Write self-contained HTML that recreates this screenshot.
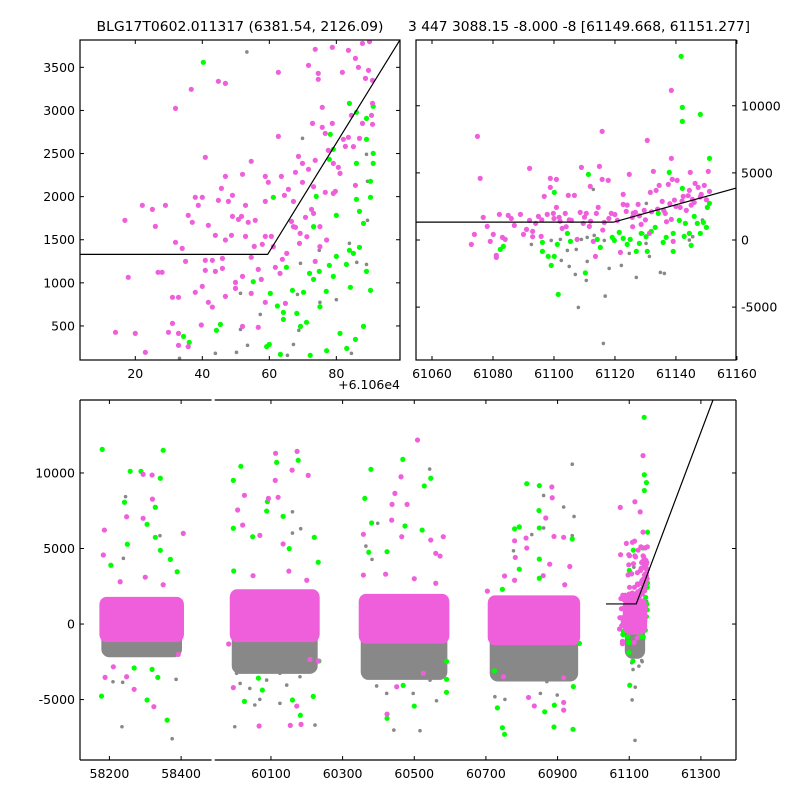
<!DOCTYPE html>
<html><head><meta charset="utf-8">
<style>
html,body{margin:0;padding:0;background:#fff;}
svg{display:block;font-family:"DejaVu Sans","Liberation Sans",sans-serif;}
</style></head>
<body>
<svg id="chart" width="800" height="800" viewBox="0 0 800 800" xmlns="http://www.w3.org/2000/svg">
<defs>
<clipPath id="clipTL"><rect x="80" y="40" width="320" height="320"/></clipPath>
<clipPath id="clipTR"><rect x="416" y="40" width="320" height="320"/></clipPath>
<clipPath id="clipBL"><rect x="80" y="400" width="131.6" height="360"/></clipPath>
<clipPath id="clipBR"><rect x="214.7" y="400" width="521.3" height="360"/></clipPath>
</defs>
<text x="240" y="31" font-size="13" text-anchor="middle" textLength="287" lengthAdjust="spacingAndGlyphs">BLG17T0602.011317 (6381.54, 2126.09)</text>
<text x="579" y="31" font-size="13" text-anchor="middle" textLength="342" lengthAdjust="spacingAndGlyphs">3 447 3088.15 -8.000 -8 [61149.668, 61151.277]</text>
<g id="layer"></g>
</svg>
<script>
// ---- data ----
const tlMagenta=[[14.1,426],[16.9,1725],[17.9,1064],[20,414],[22.1,1899],[23,194],[25.1,1852],[26,1655],[26.8,1122],[28,1122],[29,1899],[29.9,426],[31.1,832],[31.1,530],[32,3024],[32,1470],[32.9,832],[32.9,414],[32.9,275],[34,1400],[35,1249],[35.8,1783],[35.8,260],[36.7,3245],[37,1702],[37.9,1992],[37.9,890],[38.8,1899],[39.7,511],[40,1992],[40,959],[40.9,2456],[40.9,1261],[40.9,1145],[41.8,1667],[41.8,774],[43,1261],[43,719],[43.9,1551],[43.9,1133],[44.8,3338],[44.8,1957],[45.7,2096],[46,1284],[46,1168],[46.9,3314],[46.9,2235],[46.9,1497],[46.9,843],[47.8,1945],[48.7,1551],[49,1771],[49,2015],[49.9,1005],[49.9,936],[50.8,1736],[51.7,1771],[52,2259],[52,1075],[52,495],[52.9,1899],[52.9,1539],[53.7,1702],[54.6,2410],[54.6,1296],[54.6,878],[55.5,1423],[55.8,1725],[56.7,1156],[56.7,484],[57.6,1040],[57.9,1447],[58.8,2235],[58.8,1945],[58.8,1539],[58.8,774],[59.7,2166],[60.6,1539],[61.8,1180],[62.7,3442],[62.7,2699],[63.6,2235],[63.9,1273],[64.5,2015],[64.8,762],[65.7,2085],[66.6,1713],[67.2,1945],[67.8,2282],[67.8,1644],[68.7,2467],[69,1458],[69.9,2166],[69.9,2386],[70.8,1760],[71.7,3523],[71.7,2317],[72.6,1852],[72.9,2850],[73.7,2421],[73.7,3709],[73.7,1249],[74.6,3430],[74.6,3361],[75.8,3036],[75.8,2804],[76.7,2050],[76.7,2734],[77.6,2537],[78.8,3732],[78.8,2850],[79.7,2061],[80.6,2340],[81.8,3442],[82.1,2665],[82.7,2583],[83.6,3697],[84.5,2943],[85.7,3604],[85.7,2131],[86.6,3500],[86.9,2676],[87.8,3778],[87.8,2850],[88.7,3372],[89.6,3465],[89.9,3798],[90.5,2943],[90.8,3082],[90.8,2839],[90.8,3349],[83.6,2688],[79.1,2386],[73.2,1806],[75.1,1420],[71.2,1535],[65.2,1342],[73.2,2115],[79.1,2038],[81.1,2270],[85.1,2580],[67.2,1652],[69.2,1574],[75.1,1652],[77.1,1497],[61.2,1420],[63.2,1110]];
const tlGreen=[[40.3,3558],[61.2,1992],[55.2,1013],[45.4,518],[44.2,449],[34.4,379],[36.1,310],[60,286],[65.1,1180],[60.3,878],[62.4,731],[64.2,657],[64.2,576],[66.9,913],[69.3,495],[70.2,890],[71.1,542],[72,1110],[73.2,1040],[74.9,1133],[77,901],[77.9,1203],[79.1,1075],[80,1307],[83,1214],[84.2,948],[83.9,1377],[85.1,1342],[86.9,1412],[89,1133],[90.2,913],[88.1,495],[85.7,344],[83.1,240],[77.1,213],[72.2,159],[63.3,170],[59.2,260],[74,2003],[80,1783],[86,1969],[86.9,1829],[88.1,1690],[90.2,1992],[90.2,2178],[86,2386],[89,2665],[91,2502],[91,2386],[89,2908],[91,3048],[86,2978],[83.9,3082],[78.2,2723],[79.1,2549],[77.9,2433],[73.2,1652],[68.2,646],[75.1,723],[81.1,414]];
const tlGray=[[53.3,3678],[69.9,2676],[74.9,1377],[83.9,1458],[89,1214],[89.3,1725],[89.3,2178],[89,2491],[69.3,1226],[80,805],[75.1,774],[68.4,866],[57.3,634],[51.4,878],[51.4,460],[53.5,275],[43.9,182],[50.2,194],[33.2,124],[67.2,286],[65.4,159],[84.5,182],[68.8,449],[86.1,1238]];
const trMagenta=[[61074.9,7721],[61075.8,4591],[61076.8,1685],[61073.9,418],[61072.9,-327],[61078.1,1014],[61079.1,-104],[61080.1,418],[61081.1,-1147],[61081.1,-1296],[61082.1,1909],[61083.1,195],[61084,46],[61085,1834],[61087,1089],[61089,1909],[61090,418],[61091,790],[61092,5337],[61092,1462],[61093,642],[61094,1238],[61094.9,1760],[61095.8,269],[61096.8,3250],[61097.8,1909],[61098.8,4591],[61098.8,3920],[61099.8,1983],[61100.8,4517],[61100.8,2430],[61101.7,1685],[61102.7,865],[61103.7,1983],[61104.7,3324],[61105.7,1462],[61106.7,3324],[61107.6,46],[61108.6,2058],[61109,5411],[61109.6,1238],[61110.6,1983],[61111.6,1014],[61111.9,3995],[61112.9,-104],[61113.6,-1221],[61113.9,1983],[61114.5,2430],[61114.9,5486],[61115.8,8094],[61115.8,4517],[61116.5,1312],[61117.8,4442],[61118.8,1983],[61120.8,1462],[61121.8,-923],[61122.7,3399],[61122.7,2654],[61123.7,2132],[61124.7,4889],[61125.7,1685],[61126.7,2058],[61127.6,2654],[61128.6,1163],[61129.6,2207],[61130.6,7423],[61131.6,3548],[61132.6,5113],[61133.5,3697],[61134.5,4070],[61135.5,2877],[61136.5,1983],[61137.5,4144],[61138.5,11149],[61138.5,6082],[61138.8,4517],[61138.5,1536],[61139.5,2977],[61140.4,4442],[61141.4,2430],[61142.4,3250],[61143.4,2207],[61144.4,3697],[61144.7,5039],[61145.4,3026],[61146.3,4219],[61147.3,3920],[61148.3,3399],[61149.3,4070],[61150.6,5113],[61151,3622],[61139.1,-104],[61136.9,1362],[61131.3,493],[61125.8,990],[61116,742],[61104,990],[61093,244],[61120,1900],[61128,1800],[61134,2300],[61140,2500],[61146,2800],[61150,3000],[61110,1700],[61100,1600],[61124,2600],[61144,3300],[61105,1500],[61112,1400],[61118,1600],[61126,2000],[61132,2100],[61138,2700],[61142,2900],[61148,3200],[61086,1600],[61096,1500],[61102,1400],[61130,1500],[61136,2200],[61145,2600]];
const trGreen=[[61141.7,13683],[61142.1,9882],[61142.1,8839],[61148,9361],[61151,6082],[61137.8,5039],[61111.3,4889],[61100.1,3548],[61142.1,3846],[61082.4,-700],[61083.4,-476],[61096.2,-178],[61096.2,-849],[61098.1,-1221],[61100.1,-1221],[61099.1,-1892],[61101.4,-4053],[61101.1,-327],[61104.4,493],[61105.4,-104],[61110.3,-2450],[61114.2,46],[61115.2,-550],[61119.1,195],[61119.8,-29],[61121.4,567],[61122.7,120],[61124,-327],[61125,46],[61127,-849],[61128,-253],[61128.6,493],[61130.6,-849],[61131.9,642],[61133.2,940],[61134.2,1983],[61135.8,-178],[61136.8,195],[61139.1,-849],[61141.1,1462],[61142.7,269],[61143.1,1238],[61145,-402],[61146,1760],[61147,1238],[61148,493],[61149,1312],[61150,940],[61150.3,2430],[61151,2728],[61139.1,493],[61144.4,493],[61130.2,244]];
const trGray=[[61112.9,3771],[61130.3,2728],[61092.6,-327],[61099.1,-29],[61102.1,46],[61104.4,-774],[61107.3,-700],[61109,46],[61110.9,-1594],[61110.9,195],[61102.4,-1519],[61105,-1966],[61107,-2562],[61110.6,-3009],[61108,-5021],[61116.8,-4177],[61116.2,-7704],[61118.1,-2115],[61122.1,-1892],[61127,-2786],[61131.3,-1221],[61134.9,-2413],[61136.2,-2488],[61113.2,344],[61116.5,-29],[61129.1,493],[61130.2,-253],[61124.7,-1000],[61144.4,-4],[61145.5,244],[61148.7,1487]];
const bMagenta=[[58186,6220],[58294,9910],[58319,9860],[58320,8270],[58248,7100],[58294,7000],[58406,6000],[58183,4570],[58188,-3530],[58269,-4320],[58324,-5470],[58392,-2010],[58248,-3490],[58211,-2830],[60113,11300],[60173,11430],[60159,10190],[60204,9840],[60112,9510],[60026,8520],[60007,7550],[60093,8320],[60120,8390],[60021,6550],[60069,5870],[60134,5300],[59995,-4210],[60067,-6750],[60154,-6710],[60184,-6640],[60172,-5430],[59982,-1320],[60232,-2450],[60209,-2340],[60509,12180],[60463,9750],[60446,8650],[60438,7920],[60480,7920],[60437,6880],[60465,5780],[60581,5780],[60546,5560],[60358,5940],[60358,3240],[60560,4680],[60572,4500],[60451,-4150],[60424,-5960],[60525,-3260],[60884,9070],[60885,8360],[60867,7020],[60780,5510],[60812,5690],[60890,5800],[60917,5740],[60814,5030],[60782,4410],[60878,3960],[60934,3810],[60752,3180],[60704,2180],[60835,-5420],[60819,-4860],[60917,-5700],[60917,-5190],[60917,-3550],[60749,-3480],[58230,2800],[58300,3100],[58350,2600],[60050,3200],[60150,3500],[60200,2900],[60420,3300],[60500,3000],[60560,2700],[60780,2900],[60860,3200],[60920,2600]];
const bGreen=[[58180,11560],[58350,11500],[58258,10110],[58288,10110],[58342,9650],[58242,8060],[58328,7730],[58305,6600],[58250,5280],[58328,5740],[58342,4880],[58370,4280],[58204,3890],[58389,3460],[58178,-4770],[58305,-5030],[58361,-6360],[58335,-3530],[58319,-3000],[58269,-2910],[60016,10440],[59995,9510],[60116,10700],[60176,10840],[60090,8100],[60088,7480],[59995,6340],[60049,5780],[60134,7130],[60221,5740],[60151,4990],[60232,4090],[59996,3510],[60218,-4790],[60182,-6040],[60160,-5030],[60076,-4370],[60026,-5120],[60065,-3580],[60234,-2450],[60468,10900],[60379,10240],[60546,9650],[60528,9140],[60362,8320],[60381,6690],[60522,6220],[60474,6490],[60424,4790],[60373,4750],[60500,-5430],[60424,-6240],[60590,-4520],[60590,-3660],[60469,-4060],[60590,-2470],[60814,9290],[60849,9160],[60780,6300],[60793,6430],[60849,6360],[60848,7510],[60941,5630],[60849,4300],[60793,3630],[60849,3030],[60746,2300],[60732,-5550],[60746,-6860],[60752,-7300],[60890,-6810],[60943,-6970],[60864,-5810],[60891,-5370],[60944,-4140],[60724,-3100],[60961,-1280]];
const bGray=[[58245,8430],[58235,-6800],[58375,-7590],[58386,-3660],[58210,-3820],[58237,-3860],[58341,5850],[58239,4350],[60160,7430],[60183,6310],[60160,6020],[59999,-6800],[60223,-6690],[60125,-5250],[60055,-5360],[60069,-4990],[60041,-4260],[60004,-3260],[60088,-3710],[60144,-4040],[60181,-3490],[60014,-3930],[60125,-3260],[60543,10260],[60398,6670],[60365,5160],[60382,4280],[60443,-7020],[60516,-7060],[60562,-5080],[60395,-4100],[60544,-3710],[60460,-3260],[60497,-4590],[60423,-4590],[60385,-3260],[60941,10580],[60861,8510],[60917,7740],[60946,7120],[60828,5920],[60861,6360],[60941,5850],[60777,4850],[60725,-4810],[60753,-4990],[60852,-4590],[60899,-4700],[60946,-3140],[60739,-2930],[60814,-3370],[60870,-3810]];
// dense cluster cores (bottom panel)
const clusterStart=[58172,59985,60345,60705,61082];
const clusterEnd=[58408,60236,60598,60963,61150];
const magentaHigh=[1800,2300,2000,1900,1700];
const magentaLow=[-1200,-1200,-1300,-1400,-700];
const grayLow=[-2200,-3300,-3700,-3800,-2300];
// broken-line model
const modelBase=[1330];
const modelKink=[61119.5];
const modelSlope=[63];
const tlOffset=[61060];
// ticks
const tlXTicks=[20,40,60,80];
const tlYTicks=[500,1000,1500,2000,2500,3000,3500];
const trXTicks=[61060,61080,61100,61120,61140,61160];
const trYTicks=[-5000,0,5000,10000];
const bYTicks=[-5000,0,5000,10000];
const bLeftTicks=[58200,58400];
const bRightTicks=[60100,60300,60500,60700,60900,61100,61300];

// ---- scales ----
const NS="http://www.w3.org/2000/svg";
const layer=document.getElementById('layer');
function lin(d0,d1,r0,r1){return v=>r0+(v-d0)*(r1-r0)/(d1-d0);}
const tlX=lin(3.5,99.0,80,400), tlY=lin(105,3817,360,40);
const trX=lin(61054.75,61159.7,416,736), trY=lin(-8940,14900,360,40);
const bY=lin(-9000,14830,760,400);
const bXL=lin(58118,58485,80,211.6), bXR=lin(59943,61398,214.7,736);
const MAG="#ef5fdc", GRN="#00ff00", GRY="#888888";

function mk(tag,attrs,parent){const e=document.createElementNS(NS,tag);for(const k in attrs)e.setAttribute(k,attrs[k]);(parent||layer).appendChild(e);return e;}
function group(clip){const g=mk('g',{'clip-path':'url(#'+clip+')'});return g;}

function dots(pts,xf,yf,color,r,g,name){
  for(const p of pts){
    const c=mk('circle',{cx:xf(p[0]).toFixed(2),cy:yf(p[1]).toFixed(2),r:r,fill:color},g);
    
    
  }
}
function model(t){return t<modelKink[0]?modelBase[0]:modelBase[0]+(t-modelKink[0])*modelSlope[0];}
function modelLine(t0,t1,xf,yf,off,g,name){
  const ts=[t0,modelKink[0],t1];
  const d=ts.map((t,i)=>(i?'L':'M')+xf(t-off).toFixed(2)+' '+yf(model(t)).toFixed(2)).join(' ');
  const p=mk('path',{d:d,fill:'none',stroke:'#000','stroke-width':1.2},g);
  
  
}
function txt(x,y,s,anchor,name){
  const t=mk('text',{x:x,y:y,'font-size':12.5,'text-anchor':anchor});
  t.textContent=s;
  
  
  return t;
}
function tick(x1,y1,x2,y2,name){
  const l=mk('line',{x1:x1,y1:y1,x2:x2,y2:y2,stroke:'#000','stroke-width':1});
  
  
}
function frame(x,y,w,h,name){
  const r=mk('rect',{x:x,y:y,width:w,height:h,fill:'none',stroke:'#000','stroke-width':1.2});
  
  
}

// ---- top-left panel ----
const gTL=group('clipTL');


const off=tlOffset[0];
dots(tlGray,tlX,tlY,GRY,1.8,gTL,'tl-gray-point');
dots(tlGreen,tlX,tlY,GRN,2.6,gTL,'tl-green-point');
dots(tlMagenta,tlX,tlY,MAG,2.6,gTL,'tl-magenta-point');
modelLine(off+3.5,off+100,tlX,tlY,off,gTL,'tl-model-line');
frame(80,40,320,320,'tl-axes-frame');
for(const v of tlXTicks){const x=tlX(v);tick(x,360,x,356,'tl-x-tick');tick(x,40,x,44,'tl-x-tick-top');txt(x,378,String(v),'middle','tl-x-tick-label');}
for(const v of tlYTicks){const y=tlY(v);tick(80,y,84,y,'tl-y-tick');tick(400,y,396,y,'tl-y-tick-right');txt(75,y+4.5,String(v),'end','tl-y-tick-label');}
txt(400,389,'+6.106e4','end','tl-x-offset-label');

// ---- top-right panel ----
const gTR=group('clipTR');


dots(trGray,trX,trY,GRY,1.8,gTR,'tr-gray-point');
dots(trGreen,trX,trY,GRN,2.6,gTR,'tr-green-point');
dots(trMagenta,trX,trY,MAG,2.6,gTR,'tr-magenta-point');
modelLine(61054,61160,trX,trY,0,gTR,'tr-model-line');
frame(416,40,320,320,'tr-axes-frame');
for(const v of trXTicks){const x=trX(v);tick(x,360,x,356,'tr-x-tick');tick(x,40,x,44,'tr-x-tick-top');txt(x,378,String(v),'middle','tr-x-tick-label');}
for(const v of trYTicks){const y=trY(v);tick(416,y,420,y,'tr-y-tick-left');tick(736,y,732,y,'tr-y-tick');txt(741,y+4.5,String(v),'start','tr-y-tick-label');}

// ---- bottom panel ----
function bottomSeg(clip,xf,inSeg,name){
  const g=group(clip);
  
  
  for(let i=0;i<clusterStart.length;i++){
    if(!inSeg(clusterStart[i]))continue;
    const x0=xf(clusterStart[i]),x1=xf(clusterEnd[i]);
    const gr=mk('rect',{x:x0+2,y:bY(0),width:x1-x0-4,height:bY(grayLow[i])-bY(0),rx:8,ry:8,fill:GRY},g);
    
    
  }
  const sel=a=>a.filter(p=>inSeg(p[0]));
  dots(sel(bGray),xf,bY,GRY,1.8,g,'bottom-gray-point');
  dots(sel(trGray),xf,bY,GRY,1.8,g,'bottom-gray-point');
  dots(sel(bGreen),xf,bY,GRN,2.6,g,'bottom-green-point');
  dots(sel(trGreen),xf,bY,GRN,2.6,g,'bottom-green-point');
  for(let i=0;i<clusterStart.length;i++){
    if(!inSeg(clusterStart[i]))continue;
    const x0=xf(clusterStart[i]),x1=xf(clusterEnd[i]);
    const m=mk('rect',{x:x0,y:bY(magentaHigh[i]),width:x1-x0,height:bY(magentaLow[i])-bY(magentaHigh[i]),rx:7,ry:8,fill:MAG},g);
    
    
  }
  dots(sel(bMagenta),xf,bY,MAG,2.6,g,'bottom-magenta-point');
  dots(sel(trMagenta),xf,bY,MAG,2.6,g,'bottom-magenta-point');
  return g;
}
bottomSeg('clipBL',bXL,v=>v<59000,'bottom-left-segment');
const gBR=bottomSeg('clipBR',bXR,v=>v>=59000,'bottom-right-segment');
modelLine(61035,61400,bXR,bY,0,gBR,'bottom-model-line');
function spine(x1,y1,x2,y2,name){const l=mk('line',{x1:x1,y1:y1,x2:x2,y2:y2,stroke:'#000','stroke-width':1.2});}
spine(80,400,211.6,400,'bottom-left-top-spine');
spine(80,760,211.6,760,'bottom-left-bottom-spine');
spine(80,400,80,760,'bottom-left-spine');
spine(214.7,400,736,400,'bottom-right-top-spine');
spine(214.7,760,736,760,'bottom-right-bottom-spine');
spine(736,400,736,760,'bottom-right-spine');
for(const v of bLeftTicks){const x=bXL(v);tick(x,760,x,756,'bottom-x-tick');tick(x,400,x,404,'bottom-x-tick-top');txt(x,778,String(v),'middle','bottom-x-tick-label');}
for(const v of bRightTicks){const x=bXR(v);tick(x,760,x,756,'bottom-x-tick');tick(x,400,x,404,'bottom-x-tick-top');txt(x,778,String(v),'middle','bottom-x-tick-label');}
for(const v of bYTicks){const y=bY(v);tick(80,y,84,y,'bottom-y-tick');tick(736,y,732,y,'bottom-y-tick-right');txt(75,y+4.5,String(v),'end','bottom-y-tick-label');}
</script>
</body></html>
